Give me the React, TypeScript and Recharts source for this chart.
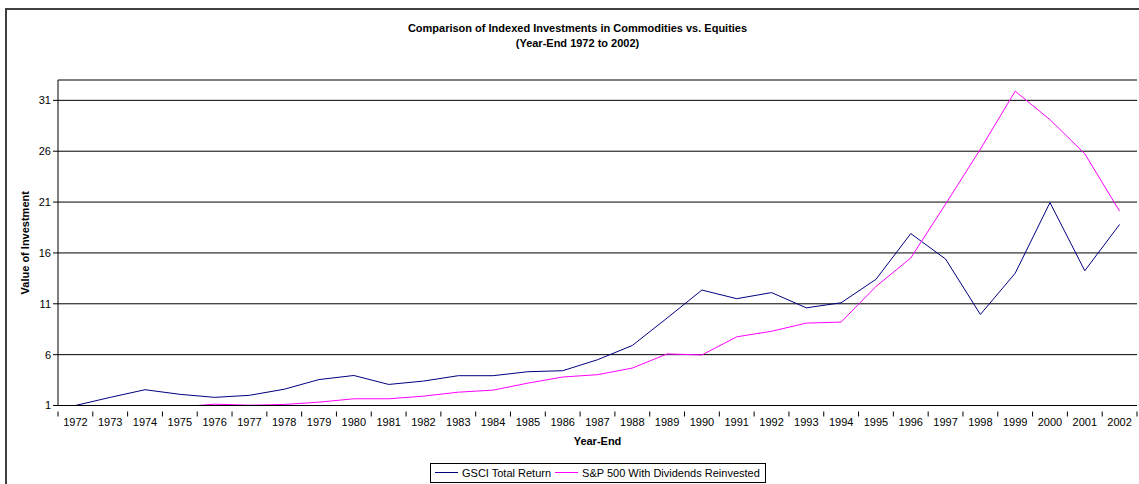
import React from 'react';
import { LineChart, Line, XAxis, YAxis, CartesianGrid, Legend, ReferenceLine } from 'recharts';

const years = [
  '1972', '1973', '1974', '1975', '1976', '1977', '1978', '1979', '1980', '1981', '1982',
  '1983', '1984', '1985', '1986', '1987', '1988', '1989', '1990', '1991', '1992',
  '1993', '1994', '1995', '1996', '1997', '1998', '1999', '2000', '2001', '2002'
];

const gsci = [
  1.0, 1.8, 2.55, 2.1, 1.8, 2.0, 2.6, 3.55, 3.95, 3.07, 3.4,
  3.93, 3.93, 4.32, 4.42, 5.5, 6.9, 9.6, 12.35, 11.5, 12.1,
  10.6, 11.1, 13.4, 17.9, 15.4, 9.95, 14.0, 20.95, 14.25, 18.8
];

// values below 1 fall outside the axis and are clipped
const sp500 = [
  1.0, 0.85, 0.63, 0.86, 1.13, 1.03, 1.1, 1.33, 1.66, 1.66, 1.92,
  2.31, 2.51, 3.2, 3.8, 4.03, 4.68, 6.07, 5.97, 7.75, 8.3,
  9.1, 9.2, 12.7, 15.5, 20.8, 26.2, 31.9, 29.1, 25.75, 20.1
];

const yTicks = [1, 6, 11, 16, 21, 26, 31];

const data = years.map((year, i) => ({ year, gsci: gsci[i], sp500: sp500[i] }));

const FONT = '"Liberation Sans", Arial, sans-serif';
const PLOT_LEFT = 58;
const PLOT_RIGHT = 1137;
const BAND = (PLOT_RIGHT - PLOT_LEFT) / years.length;

const YearTick = (props: any) => {
  const { x, y, payload, index } = props;
  const top = y - 2;
  return (
    <g>
      <line x1={x - BAND / 2} y1={top} x2={x - BAND / 2} y2={top + 5} stroke="#000" />
      {index === years.length - 1 && (
        <line x1={x + BAND / 2} y1={top} x2={x + BAND / 2} y2={top + 5} stroke="#000" />
      )}
      <text x={x} y={top + 14} textAnchor="middle" fontSize={11} fill="#000" fontFamily={FONT}>
        {payload.value}
      </text>
    </g>
  );
};

const LegendBox = () => (
  <div
    style={{
      display: 'inline-flex',
      alignItems: 'center',
      border: '1px solid #000',
      padding: '3px 5px 3px 4px',
      fontSize: 11,
      fontFamily: FONT,
      color: '#000',
      background: '#fff'
    }}
  >
    <span style={{ width: 23, height: 0, borderTop: '1px solid #000080', marginRight: 4 }} />
    <span style={{ marginRight: 4 }}>GSCI Total Return</span>
    <span style={{ width: 23, height: 0, borderTop: '1px solid #ff00ff', marginRight: 4 }} />
    <span>S&amp;P 500 With Dividends Reinvested</span>
  </div>
);

export default function App() {
  return (
    <div
      style={{
        position: 'absolute',
        left: 0,
        top: 0,
        width: 1139,
        height: 484,
        overflow: 'hidden',
        background: '#fff',
        fontFamily: FONT
      }}
    >
      <div
        style={{
          position: 'absolute',
          left: 5,
          top: 8,
          width: 1150,
          height: 500,
          border: '2px solid #404040'
        }}
      />
      <div
        style={{
          position: 'absolute',
          left: 0,
          top: 21,
          width: 1155,
          textAlign: 'center',
          fontSize: 11,
          fontWeight: 'bold',
          lineHeight: '15px',
          color: '#000'
        }}
      >
        Comparison of Indexed Investments in Commodities vs. Equities
        <br />
        (Year-End 1972 to 2002)
      </div>
      <LineChart
        width={1139}
        height={484}
        data={data}
        margin={{ top: 80, right: 2, bottom: 15, left: 0 }}
        style={{ position: 'absolute', left: 0, top: 0 }}
      >
        <CartesianGrid vertical={false} stroke="#000" />
        <ReferenceLine y={33} stroke="#808080" />
        <XAxis
          dataKey="year"
          height={40}
          padding={{ left: BAND / 2, right: BAND / 2 }}
          axisLine={{ stroke: '#000' }}
          tickLine={false}
          tick={<YearTick />}
          interval={0}
          label={{
            value: 'Year-End',
            position: 'insideBottom',
            offset: 1,
            style: { fontSize: 11, fontWeight: 'bold', fill: '#000', fontFamily: FONT }
          }}
        />
        <YAxis
          width={58}
          domain={[1, 33]}
          ticks={yTicks}
          allowDataOverflow
          axisLine={{ stroke: '#000' }}
          tickLine={{ stroke: '#000' }}
          tickSize={5}
          tick={{ fontSize: 11, fill: '#000', fontFamily: FONT }}
          label={{
            value: 'Value of Investment',
            angle: -90,
            position: 'insideLeft',
            offset: 25,
            style: { fontSize: 11, fontWeight: 'bold', fill: '#000', fontFamily: FONT, textAnchor: 'middle' }
          }}
        />
        <YAxis
          yAxisId="right"
          orientation="right"
          width={0}
          domain={[1, 33]}
          axisLine={{ stroke: '#808080' }}
          tick={false}
          tickLine={false}
        />
        <Legend
          content={<LegendBox />}
          wrapperStyle={{ position: 'absolute', left: 430, top: 459, width: 'auto' }}
        />
        <Line
          type="linear"
          dataKey="gsci"
          name="GSCI Total Return"
          stroke="#000080"
          strokeWidth={1}
          dot={false}
          isAnimationActive={false}
        />
        <Line
          type="linear"
          dataKey="sp500"
          name="S&P 500 With Dividends Reinvested"
          stroke="#ff00ff"
          strokeWidth={1}
          dot={false}
          isAnimationActive={false}
        />
      </LineChart>
    </div>
  );
}
